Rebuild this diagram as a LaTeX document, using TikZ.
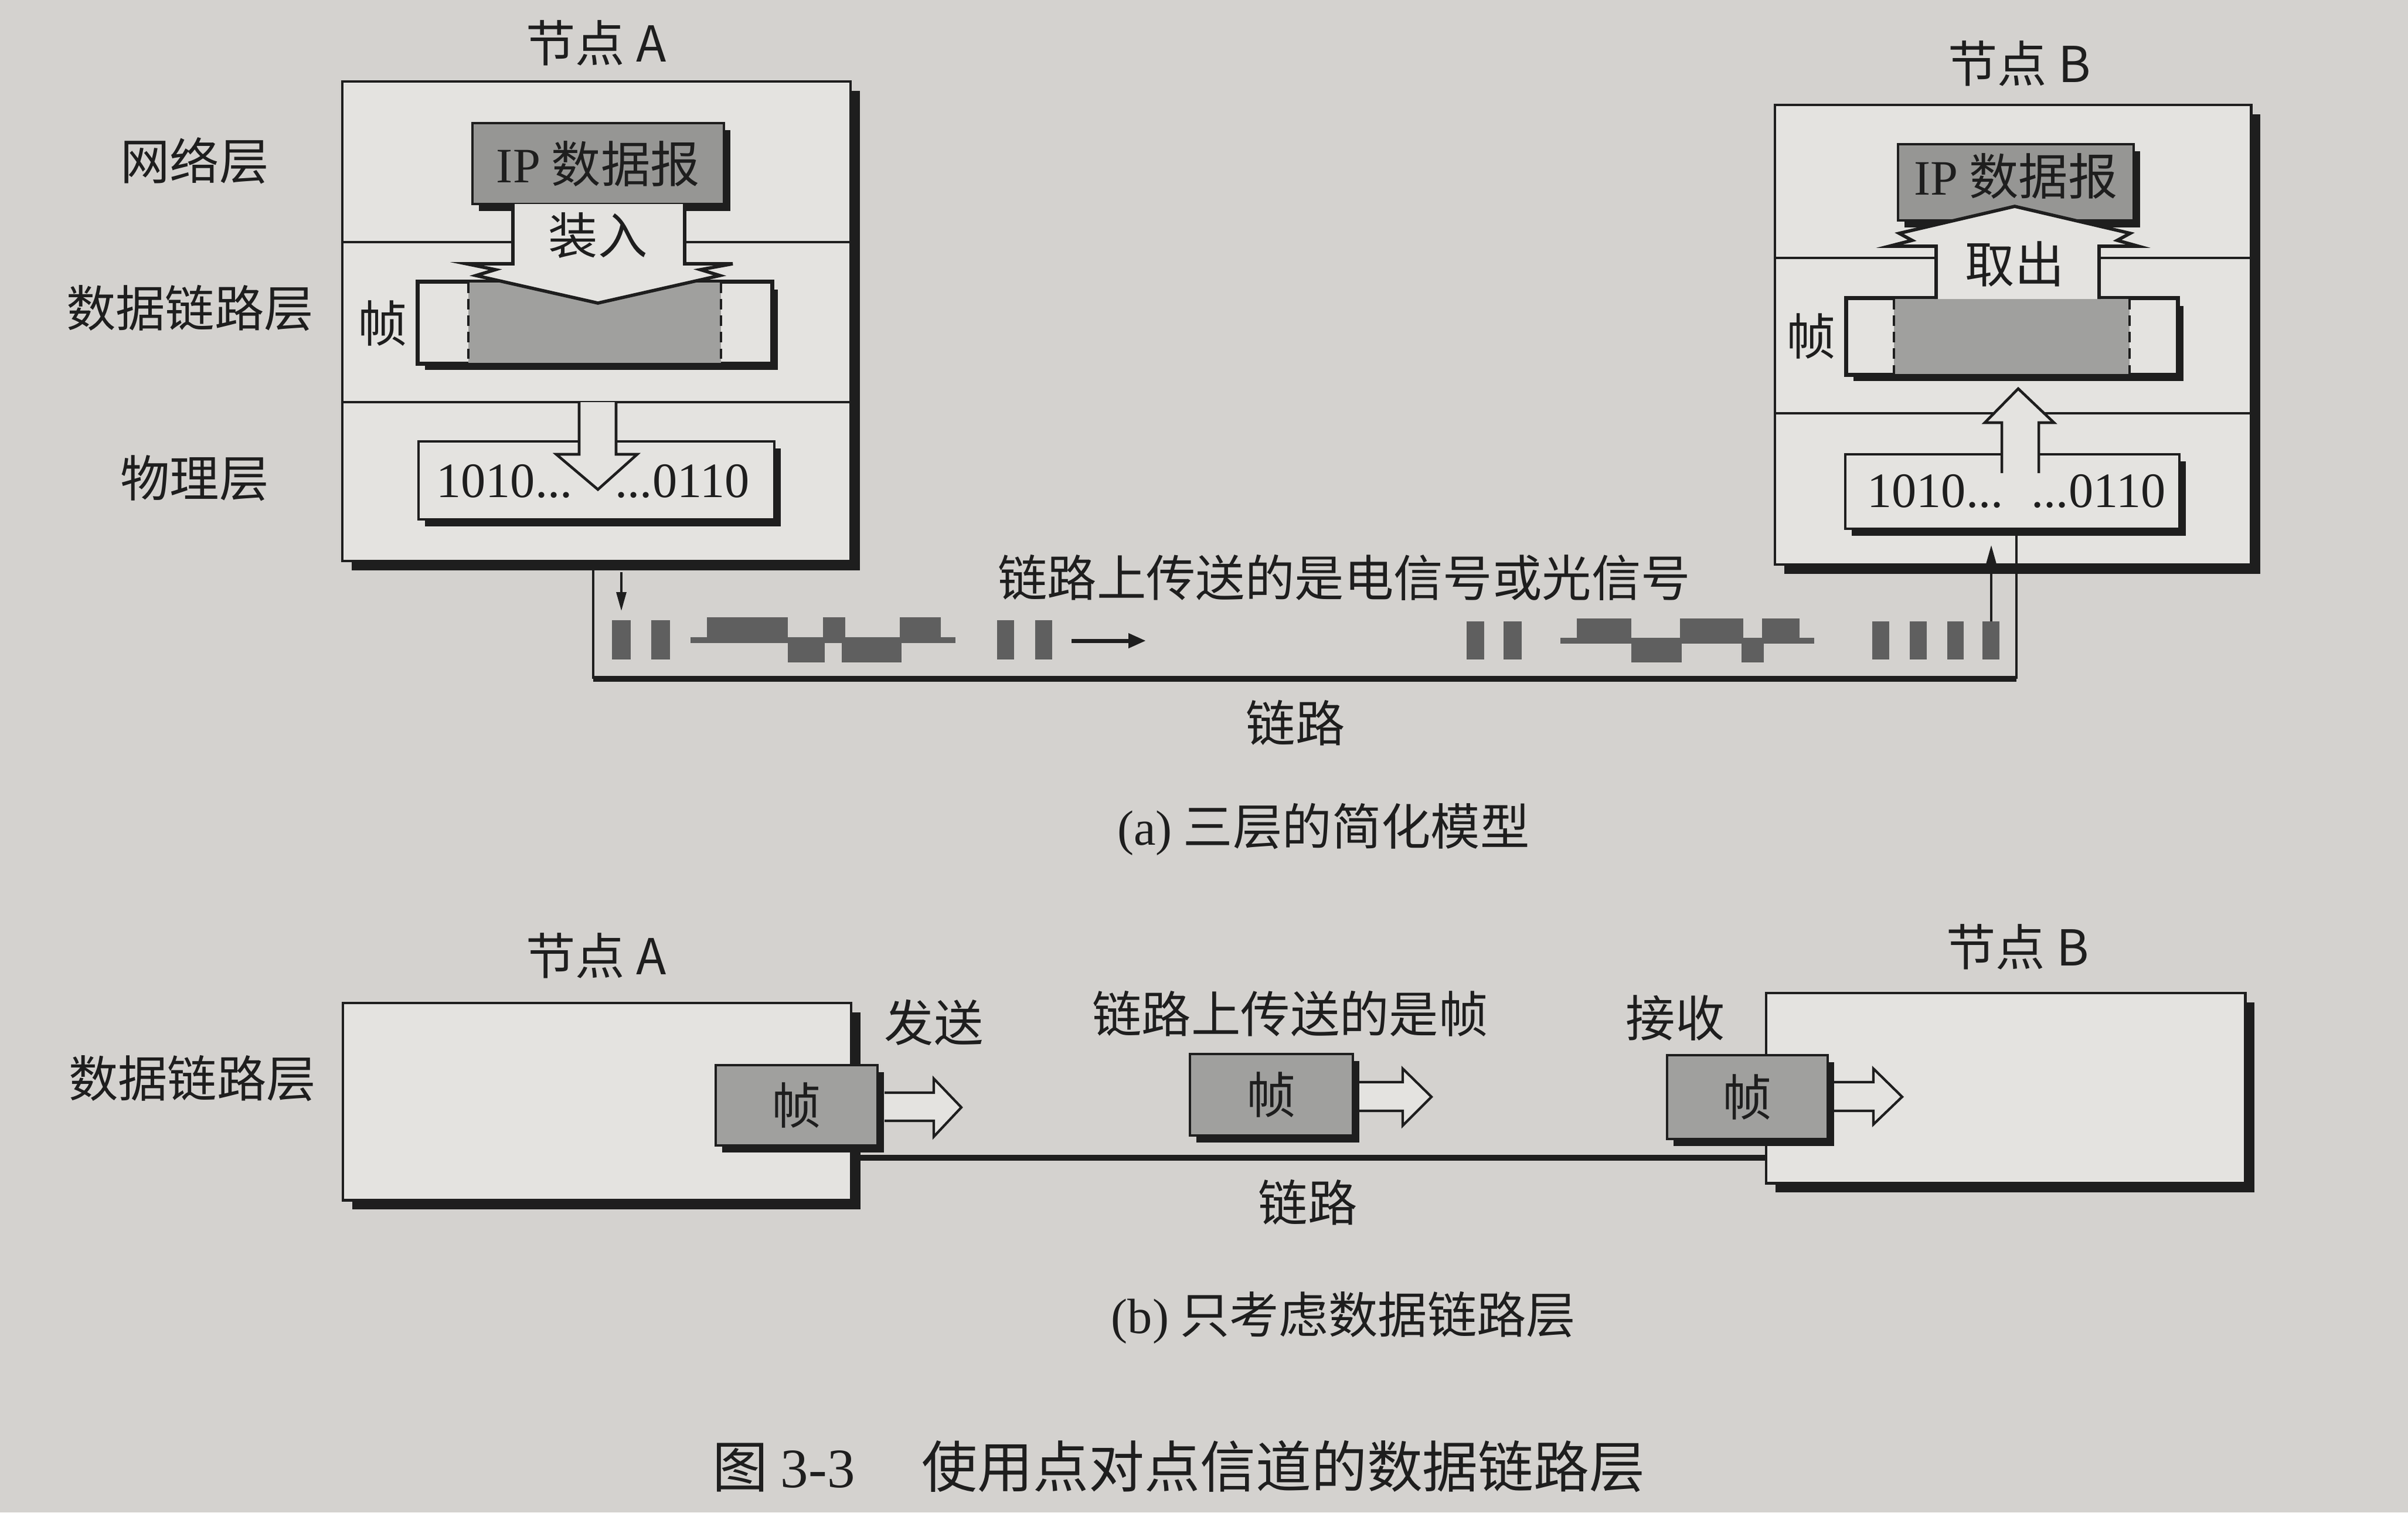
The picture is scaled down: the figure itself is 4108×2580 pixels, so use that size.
\documentclass[tikz,border=0pt]{standalone}
\usepackage{fontspec}
\setmainfont{Liberation Serif}
\newfontfamily\cjk{Noto Sans CJK SC}
\usetikzlibrary{fit,shadows,arrows.meta}
\definecolor{bgc}{RGB}{212,210,207}
\definecolor{ink}{RGB}{30,30,30}
\definecolor{boxc}{RGB}{228,227,224}
\definecolor{shc}{RGB}{160,160,158}
\definecolor{ipc}{RGB}{150,150,148}
\definecolor{barc}{RGB}{95,95,95}
\begin{document}
\begin{tikzpicture}[x=0.01cm,y=-0.01cm,
  bigbox/.style={draw=ink,line width=1.4pt,fill=boxc,inner sep=0pt,
    general shadow={fill=ink,shadow xshift=0.16cm,shadow yshift=-0.16cm}},
  smallbox/.style={draw=ink,line width=1.3pt,fill=boxc,inner sep=0pt,
    general shadow={fill=ink,shadow xshift=0.11cm,shadow yshift=-0.12cm}},
  lab/.style={font=\cjk\fontsize{24pt}{28pt}\selectfont,inner sep=0pt,text=ink},
  caplab/.style={font=\cjk\fontsize{27pt}{30pt}\selectfont,inner sep=0pt,text=ink},
  bitlab/.style={font=\rmfamily\fontsize{24pt}{28pt}\selectfont,inner sep=0pt,text=ink},
  thinline/.style={draw=ink,line width=1.3pt},
  linkline/.style={draw=ink,line width=2.8pt},
  fatarrow/.style={draw=ink,line width=1.6pt,line join=miter},
  hollowarrow/.style={draw=ink,line width=1.2pt,line join=miter},
  dashsep/.style={draw=ink,line width=0.9pt,dash pattern=on 5pt off 3pt},
  sigbar/.style={fill=barc},
  sigarrow/.style={draw=ink,line width=0.9pt,-{Triangle[length=0.32cm,width=0.17cm]}},
  flowarrow/.style={draw=ink,line width=2pt,-{Triangle[length=0.3cm,width=0.24cm]}},
]
\fill[bgc] (0,0) rectangle (4108,2580);
\useasboundingbox (0,0) rectangle (4108,2580);

%% ================= (a) =================
%% ---- node A ----
\node[lab] (tA) at (1017,73) {节点 A};
\node[bigbox, fit={(584,139)(1451,957)}] (nA) {};
\draw[thinline] (584,413) -- (1451,413);
\draw[thinline] (584,686) -- (1451,686);
\node[lab] (lnet) at (332,274) {网络层};
\node[lab] (ldl) at (324,526) {数据链路层};
\node[lab] (lph) at (332,816) {物理层};

\node[smallbox, fill=ipc, fit={(806,210)(1235,348)}] (ipA) {};
\node[lab] (ipAt) at (ipA.center) {{\rmfamily IP} 数据报};

\node[smallbox, fit={(714,482)(1316,619)}] (frA) {};
\fill[shc] (799,482) rectangle (1230,619);
\draw[thinline] (frA.north west) rectangle (frA.south east);
\draw[dashsep] (799,482) -- (799,619);
\draw[dashsep] (1230,482) -- (1230,619);
\node[lab] (frAt) at (653,552) {帧};

% 装入 arrow
\fill[boxc] (875,348) -- (875,450) -- (796,450) -- (845,460) -- (812,470) -- (1020,517)
  -- (1228,470) -- (1195,460) -- (1250,450) -- (1168,450) -- (1168,348) -- cycle;
\draw[fatarrow] (875,348) -- (875,450) -- (796,450) -- (845,460) -- (812,470) -- (1020,517)
  -- (1228,470) -- (1195,460) -- (1250,450) -- (1168,450) -- (1168,348);
\node[lab] (zr) at (1020,402) {装入};

\node[smallbox, fit={(714,753)(1321,886)}] (bitsA) {};
\fill[boxc] (988,686) -- (988,775) -- (949,775) -- (1020,835) -- (1087,775) -- (1051,775) -- (1051,686) -- cycle;
\draw[thinline] (988,686) -- (988,775) -- (949,775) -- (1020,835) -- (1087,775) -- (1051,775) -- (1051,686);
\node[bitlab, anchor=east] (bA1) at (977,821) {1010...};
\node[bitlab, anchor=west] (bA2) at (1049,821) {...0110};

%% ---- node B ----
\node[lab] (tB) at (3445,108) {节点 B};
\node[bigbox, fit={(3028,179)(3840,963)}] (nB) {};
\draw[thinline] (3028,440) -- (3840,440);
\draw[thinline] (3028,705) -- (3840,705);

\node[smallbox, fill=ipc, fit={(3238,246)(3640,376)}] (ipB) {};
\node[lab] (ipBt) at (3439,300) {{\rmfamily IP} 数据报};

\node[smallbox, fit={(3151,510)(3714,638)}] (frB) {};
\fill[shc] (3231,510) rectangle (3633,638);
\draw[thinline] (frB.north west) rectangle (frB.south east);
\draw[dashsep] (3231,510) -- (3231,638);
\draw[dashsep] (3633,510) -- (3633,638);
\node[lab] (frBt) at (3090,574) {帧};

% 取出 arrow
\fill[boxc] (3303,510) -- (3303,420) -- (3223,420) -- (3262,410) -- (3240,398) -- (3437,352)
  -- (3634,398) -- (3612,410) -- (3648,420) -- (3581,420) -- (3581,510) -- cycle;
\draw[fatarrow] (3303,510) -- (3303,420) -- (3223,420) -- (3262,410) -- (3240,398) -- (3437,352)
  -- (3634,398) -- (3612,410) -- (3648,420) -- (3581,420) -- (3581,510);
\node[lab] (qc) at (3437,450) {取出};

\node[smallbox, fit={(3148,775)(3718,902)}] (bitsB) {};
\fill[boxc] (3415,807) -- (3415,721) -- (3386,721) -- (3443,663) -- (3504,721) -- (3478,721) -- (3478,807) -- cycle;
\draw[thinline] (3415,807) -- (3415,721) -- (3386,721) -- (3443,663) -- (3504,721) -- (3478,721) -- (3478,807);
\node[bitlab, anchor=east] (bB1) at (3418,838) {1010...};
\node[bitlab, anchor=west] (bB2) at (3465,838) {...0110};

%% ---- link (a) ----
\coordinate (la) at (1012,1158);
\coordinate (lb) at (3440,1158);
\draw[thinline] (nA.south -| la) -- (la);
\draw[linkline] (la) -- (lb);
\draw[thinline] (lb) -- (bitsB.south -| lb);

\coordinate (sd1) at (1060,976);
\coordinate (sd2) at (1060,1042);
\draw[sigarrow] (sd1) -- (sd2);
\coordinate (su1) at (3397,1060);
\coordinate (su2) at (3397,930);
\draw[sigarrow] (su1) -- (su2);

% left signal
\fill[sigbar] (1044,1058) rectangle (1076,1125);
\fill[sigbar] (1111,1058) rectangle (1143,1125);
\fill[sigbar] (1178,1087) rectangle (1630,1097);
\fill[sigbar] (1206,1053) rectangle (1344,1092);
\fill[sigbar] (1344,1092) rectangle (1407,1130);
\fill[sigbar] (1404,1053) rectangle (1442,1092);
\fill[sigbar] (1436,1092) rectangle (1538,1130);
\fill[sigbar] (1535,1053) rectangle (1605,1092);
\fill[sigbar] (1701,1058) rectangle (1730,1125);
\fill[sigbar] (1766,1058) rectangle (1795,1125);
\coordinate (fa1) at (1828,1093);
\coordinate (fa2) at (1955,1093);
\draw[flowarrow] (fa1) -- (fa2);

% right signal
\fill[sigbar] (2502,1060) rectangle (2532,1125);
\fill[sigbar] (2565,1060) rectangle (2596,1125);
\fill[sigbar] (2662,1088) rectangle (3095,1098);
\fill[sigbar] (2690,1055) rectangle (2783,1093);
\fill[sigbar] (2783,1093) rectangle (2869,1130);
\fill[sigbar] (2866,1055) rectangle (2974,1093);
\fill[sigbar] (2971,1093) rectangle (3009,1130);
\fill[sigbar] (3006,1055) rectangle (3070,1093);
\fill[sigbar] (3194,1060) rectangle (3223,1125);
\fill[sigbar] (3258,1060) rectangle (3287,1125);
\fill[sigbar] (3322,1060) rectangle (3350,1125);
\fill[sigbar] (3382,1060) rectangle (3411,1125);

\node[lab] (sigt) at (2293,985) {链路上传送的是电信号或光信号};
\node[lab] (linka) at (2210,1233) {链路};
\node[lab] (capa) at (2258,1415) {{\rmfamily (a)} 三层的简化模型};

%% ================= (b) =================
\node[lab] (tA2) at (1017,1630) {节点 A};
\node[lab] (tB2) at (3442,1615) {节点 B};
\node[lab] (ldl2) at (328,1840) {数据链路层};

\node[bigbox, fit={(585,1711)(1452,2047)}] (nA2) {};
\coordinate (lk) at (2200,1975);
\node[bigbox, fit={(3013,1694)(3830,2018)}] (nB2) {};
\draw[linkline] (nA2.east |- lk) -- (nB2.west |- lk);

\node[smallbox, fill=shc, fit={(1221,1817)(1497,1954)}] (f1) {};
\node[lab] at (f1.center) {帧};
\fill[boxc] (1509,1864) -- (1593,1864) -- (1593,1840) -- (1640,1889) -- (1593,1939) -- (1593,1912) -- (1509,1912) -- cycle;
\draw[hollowarrow] (1509,1864) -- (1593,1864) -- (1593,1840) -- (1640,1889) -- (1593,1939) -- (1593,1912) -- (1509,1912);
\node[lab] (send) at (1593,1744) {发送};

\node[smallbox, fill=shc, fit={(2030,1798)(2308,1937)}] (f2) {};
\node[lab] at (f2.center) {帧};
\fill[boxc] (2319,1846) -- (2393,1846) -- (2393,1823) -- (2442,1871) -- (2393,1920) -- (2393,1895) -- (2319,1895) -- cycle;
\draw[hollowarrow] (2319,1846) -- (2393,1846) -- (2393,1823) -- (2442,1871) -- (2393,1920) -- (2393,1895) -- (2319,1895);
\node[lab] (onlink) at (2201,1729) {链路上传送的是帧};

\node[smallbox, fill=shc, fit={(2844,1800)(3118,1943)}] (f3) {};
\node[lab] at (f3.center) {帧};
\fill[boxc] (3129,1846) -- (3196,1846) -- (3196,1823) -- (3245,1871) -- (3196,1918) -- (3196,1895) -- (3129,1895) -- cycle;
\draw[hollowarrow] (3129,1846) -- (3196,1846) -- (3196,1823) -- (3245,1871) -- (3196,1918) -- (3196,1895) -- (3129,1895);
\node[lab] (recv) at (2858,1736) {接收};

\node[lab] (linkb) at (2231,2051) {链路};
\node[lab] (capb) at (2292,2248) {{\rmfamily (b)} 只考虑数据链路层};
\node[caplab, anchor=west] (fig) at (1215,2502) {图 {\rmfamily 3-3}\hspace{1.2em}使用点对点信道的数据链路层};
\end{tikzpicture}
\end{document}
